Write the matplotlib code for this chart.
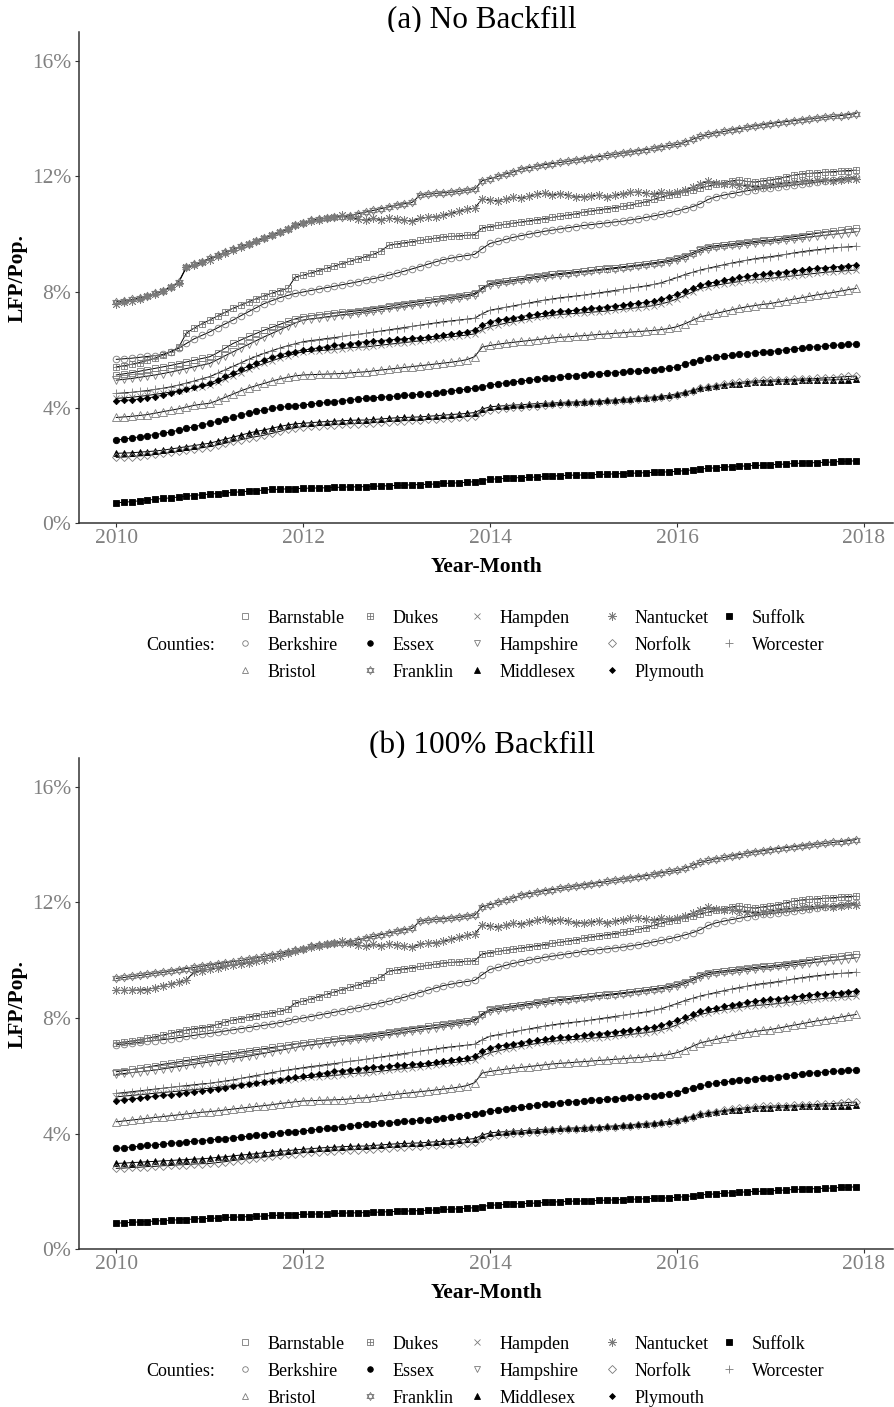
import matplotlib
matplotlib.use("Agg")
import matplotlib.pyplot as plt
from matplotlib.path import Path
import numpy as np

plt.rcParams['font.family'] = ['Liberation Serif', 'DejaVu Serif']

# months Jan 2010 .. Dec 2017
months = np.arange(96)
years = 2010 + months / 12

counties = ["Barnstable", "Berkshire", "Bristol", "Dukes", "Essex", "Franklin", "Hampden",
            "Hampshire", "Middlesex", "Nantucket", "Norfolk", "Plymouth", "Suffolk", "Worcester"]

# ---- panel (a): no backfill, LFP / population in % ----
barnstable = [5.13, 5.17, 5.21, 5.26, 5.31, 5.36, 5.41, 5.46, 5.52, 5.58, 5.64, 5.70,
              5.76, 5.90, 6.06, 6.22, 6.34, 6.46, 6.57, 6.68, 6.78, 6.88, 6.98, 7.07,
              7.14, 7.18, 7.21, 7.24, 7.27, 7.30, 7.32, 7.35, 7.37, 7.42, 7.46, 7.50,
              7.55, 7.59, 7.63, 7.67, 7.71, 7.75, 7.78, 7.82, 7.86, 7.90, 7.95, 8.15,
              8.30, 8.34, 8.38, 8.42, 8.46, 8.50, 8.54, 8.58, 8.61, 8.64, 8.67, 8.70,
              8.72, 8.75, 8.78, 8.81, 8.84, 8.87, 8.90, 8.93, 8.97, 9.01, 9.05, 9.10,
              9.16, 9.25, 9.36, 9.48, 9.56, 9.60, 9.63, 9.66, 9.69, 9.72, 9.75, 9.78,
              9.80, 9.83, 9.87, 9.91, 9.95, 9.99, 10.03, 10.07, 10.10, 10.13, 10.17, 10.20]
berkshire = [5.67, 5.69, 5.71, 5.74, 5.77, 5.80, 5.84, 5.92, 6.05, 6.22, 6.38, 6.50,
             6.62, 6.76, 6.90, 7.03, 7.18, 7.32, 7.46, 7.60, 7.70, 7.80, 7.88, 7.95,
             8.00, 8.05, 8.10, 8.15, 8.20, 8.25, 8.30, 8.35, 8.41, 8.46, 8.52, 8.58,
             8.65, 8.72, 8.80, 8.88, 8.96, 9.04, 9.12, 9.17, 9.22, 9.26, 9.30, 9.50,
             9.68, 9.75, 9.82, 9.89, 9.95, 10.00, 10.05, 10.10, 10.14, 10.18, 10.22, 10.26,
             10.30, 10.33, 10.36, 10.39, 10.42, 10.45, 10.49, 10.53, 10.58, 10.63, 10.68, 10.74,
             10.80, 10.87, 10.95, 11.05, 11.20, 11.29, 11.35, 11.40, 11.45, 11.50, 11.54, 11.58,
             11.61, 11.64, 11.67, 11.70, 11.73, 11.76, 11.80, 11.84, 11.88, 11.92, 11.95, 11.98]
bristol = [3.66, 3.68, 3.70, 3.73, 3.76, 3.81, 3.86, 3.91, 3.96, 4.02, 4.08, 4.12,
           4.15, 4.25, 4.36, 4.47, 4.58, 4.68, 4.76, 4.84, 4.92, 4.99, 5.05, 5.10,
           5.13, 5.14, 5.15, 5.16, 5.17, 5.18, 5.20, 5.22, 5.24, 5.27, 5.30, 5.33,
           5.36, 5.39, 5.42, 5.45, 5.48, 5.51, 5.54, 5.57, 5.61, 5.66, 5.76, 6.10,
           6.15, 6.19, 6.23, 6.26, 6.29, 6.32, 6.35, 6.38, 6.41, 6.43, 6.45, 6.47,
           6.49, 6.51, 6.53, 6.55, 6.57, 6.59, 6.61, 6.63, 6.65, 6.67, 6.70, 6.74,
           6.80, 6.90, 7.02, 7.14, 7.20, 7.26, 7.32, 7.38, 7.44, 7.49, 7.53, 7.57,
           7.60, 7.65, 7.70, 7.75, 7.80, 7.85, 7.90, 7.94, 7.98, 8.03, 8.08, 8.12]
dukes = [5.41, 5.45, 5.50, 5.56, 5.63, 5.72, 5.82, 5.94, 6.08, 6.58, 6.75, 6.90,
         7.03, 7.17, 7.30, 7.44, 7.55, 7.66, 7.77, 7.87, 7.96, 8.05, 8.12, 8.52,
         8.58, 8.66, 8.74, 8.82, 8.90, 8.98, 9.06, 9.14, 9.22, 9.30, 9.42, 9.62,
         9.66, 9.70, 9.74, 9.78, 9.82, 9.86, 9.90, 9.92, 9.94, 9.96, 9.98, 10.22,
         10.26, 10.30, 10.34, 10.38, 10.42, 10.46, 10.50, 10.54, 10.58, 10.62, 10.66, 10.70,
         10.76, 10.80, 10.84, 10.88, 10.92, 10.96, 11.00, 11.06, 11.12, 11.20, 11.28, 11.35,
         11.40, 11.46, 11.52, 11.60, 11.66, 11.72, 11.78, 11.84, 11.87, 11.82, 11.80, 11.84,
         11.87, 11.92, 11.98, 12.04, 12.08, 12.10, 12.12, 12.14, 12.16, 12.18, 12.20, 12.21]
essex = [2.88, 2.91, 2.95, 2.99, 3.03, 3.07, 3.11, 3.16, 3.22, 3.28, 3.34, 3.40,
         3.46, 3.53, 3.60, 3.67, 3.74, 3.81, 3.87, 3.92, 3.97, 4.01, 4.04, 4.07,
         4.09, 4.12, 4.15, 4.18, 4.21, 4.24, 4.27, 4.30, 4.32, 4.34, 4.36, 4.38,
         4.40, 4.42, 4.44, 4.46, 4.48, 4.50, 4.55, 4.58, 4.61, 4.64, 4.67, 4.72,
         4.78, 4.82, 4.86, 4.89, 4.92, 4.95, 4.98, 5.01, 5.04, 5.07, 5.09, 5.11,
         5.13, 5.15, 5.17, 5.19, 5.21, 5.23, 5.25, 5.27, 5.29, 5.31, 5.33, 5.36,
         5.42, 5.50, 5.58, 5.65, 5.70, 5.74, 5.78, 5.81, 5.84, 5.87, 5.90, 5.92,
         5.94, 5.97, 6.00, 6.03, 6.06, 6.09, 6.11, 6.13, 6.15, 6.17, 6.19, 6.20]
franklin = [7.66, 7.69, 7.74, 7.80, 7.87, 7.95, 8.05, 8.18, 8.35, 8.87, 8.95, 9.05,
            9.16, 9.27, 9.38, 9.48, 9.58, 9.66, 9.76, 9.86, 9.96, 10.06, 10.16, 10.30,
            10.40, 10.48, 10.52, 10.55, 10.58, 10.60, 10.64, 10.70, 10.76, 10.82, 10.88, 10.94,
            11.00, 11.05, 11.10, 11.35, 11.38, 11.41, 11.43, 11.45, 11.48, 11.52, 11.55, 11.85,
            11.92, 12.00, 12.08, 12.15, 12.25, 12.30, 12.35, 12.40, 12.44, 12.48, 12.52, 12.56,
            12.60, 12.64, 12.68, 12.72, 12.76, 12.80, 12.84, 12.88, 12.92, 12.97, 13.02, 13.07,
            13.10, 13.18, 13.28, 13.38, 13.45, 13.50, 13.55, 13.60, 13.65, 13.70, 13.74, 13.78,
            13.82, 13.86, 13.89, 13.92, 13.95, 13.98, 14.01, 14.04, 14.07, 14.10, 14.13, 14.17]
hampden = [4.32, 4.34, 4.36, 4.39, 4.42, 4.46, 4.50, 4.54, 4.58, 4.63, 4.68, 4.73,
           4.78, 4.88, 4.99, 5.10, 5.21, 5.32, 5.43, 5.53, 5.62, 5.71, 5.79, 5.87,
           5.93, 5.95, 5.97, 5.99, 6.01, 6.04, 6.07, 6.09, 6.10, 6.13, 6.16, 6.19,
           6.22, 6.25, 6.28, 6.31, 6.34, 6.38, 6.42, 6.45, 6.48, 6.51, 6.55, 6.70,
           6.80, 6.86, 6.92, 6.97, 7.02, 7.07, 7.12, 7.16, 7.19, 7.22, 7.24, 7.26,
           7.28, 7.30, 7.32, 7.34, 7.37, 7.40, 7.43, 7.46, 7.49, 7.53, 7.59, 7.66,
           7.76, 7.88, 8.00, 8.12, 8.18, 8.23, 8.28, 8.32, 8.36, 8.40, 8.43, 8.45,
           8.47, 8.50, 8.53, 8.56, 8.59, 8.62, 8.65, 8.68, 8.70, 8.72, 8.74, 8.76]
hampshire = [4.95, 4.98, 5.01, 5.05, 5.09, 5.13, 5.18, 5.23, 5.29, 5.35, 5.41, 5.47,
             5.53, 5.66, 5.80, 5.93, 6.06, 6.19, 6.32, 6.45, 6.57, 6.69, 6.81, 6.93,
             7.03, 7.07, 7.10, 7.14, 7.17, 7.21, 7.24, 7.28, 7.31, 7.35, 7.39, 7.43,
             7.47, 7.51, 7.55, 7.59, 7.63, 7.67, 7.72, 7.76, 7.80, 7.85, 7.90, 8.10,
             8.25, 8.29, 8.33, 8.37, 8.41, 8.45, 8.49, 8.53, 8.57, 8.60, 8.63, 8.66,
             8.69, 8.72, 8.75, 8.78, 8.81, 8.84, 8.87, 8.90, 8.93, 8.97, 9.01, 9.05,
             9.10, 9.19, 9.30, 9.42, 9.50, 9.55, 9.58, 9.61, 9.64, 9.67, 9.70, 9.73,
             9.75, 9.78, 9.81, 9.84, 9.87, 9.90, 9.93, 9.96, 9.99, 10.02, 10.05, 10.08]
middlesex = [2.42, 2.43, 2.44, 2.46, 2.48, 2.50, 2.53, 2.57, 2.61, 2.65, 2.69, 2.73,
             2.77, 2.84, 2.91, 2.98, 3.05, 3.12, 3.18, 3.23, 3.29, 3.35, 3.40, 3.44,
             3.46, 3.48, 3.50, 3.52, 3.53, 3.55, 3.56, 3.57, 3.57, 3.59, 3.61, 3.63,
             3.65, 3.66, 3.67, 3.68, 3.70, 3.72, 3.74, 3.76, 3.78, 3.80, 3.83, 3.95,
             4.03, 4.05, 4.07, 4.09, 4.10, 4.12, 4.14, 4.15, 4.16, 4.18, 4.19, 4.20,
             4.21, 4.22, 4.24, 4.25, 4.27, 4.29, 4.31, 4.33, 4.35, 4.37, 4.40, 4.43,
             4.48, 4.54, 4.60, 4.67, 4.71, 4.74, 4.77, 4.80, 4.83, 4.85, 4.87, 4.89,
             4.90, 4.91, 4.92, 4.93, 4.94, 4.95, 4.95, 4.96, 4.96, 4.97, 4.97, 4.98]
nantucket = [7.60, 7.64, 7.70, 7.77, 7.85, 7.94, 8.04, 8.16, 8.32, 8.85, 8.92, 9.02,
             9.12, 9.24, 9.36, 9.46, 9.57, 9.66, 9.76, 9.87, 9.97, 10.08, 10.18, 10.30,
             10.38, 10.45, 10.50, 10.55, 10.60, 10.65, 10.60, 10.52, 10.48, 10.55, 10.50, 10.56,
             10.52, 10.48, 10.45, 10.55, 10.58, 10.60, 10.66, 10.72, 10.80, 10.86, 10.90, 11.22,
             11.18, 11.15, 11.22, 11.28, 11.25, 11.32, 11.38, 11.42, 11.36, 11.40, 11.35, 11.30,
             11.28, 11.32, 11.36, 11.30, 11.34, 11.40, 11.44, 11.46, 11.42, 11.38, 11.44, 11.41,
             11.45, 11.52, 11.62, 11.75, 11.82, 11.78, 11.74, 11.72, 11.70, 11.68, 11.64, 11.66,
             11.70, 11.74, 11.78, 11.80, 11.83, 11.85, 11.86, 11.88, 11.84, 11.88, 11.90, 11.92]
norfolk = [2.28, 2.29, 2.31, 2.33, 2.35, 2.38, 2.42, 2.45, 2.49, 2.53, 2.57, 2.61,
           2.65, 2.71, 2.77, 2.83, 2.89, 2.95, 3.00, 3.05, 3.11, 3.18, 3.25, 3.30,
           3.34, 3.36, 3.38, 3.40, 3.41, 3.43, 3.44, 3.45, 3.46, 3.48, 3.50, 3.52,
           3.54, 3.55, 3.56, 3.57, 3.59, 3.61, 3.63, 3.65, 3.67, 3.69, 3.72, 3.84,
           3.92, 3.95, 3.98, 4.01, 4.03, 4.05, 4.07, 4.09, 4.11, 4.13, 4.15, 4.17,
           4.19, 4.20, 4.21, 4.22, 4.24, 4.26, 4.28, 4.30, 4.32, 4.34, 4.36, 4.38,
           4.44, 4.51, 4.59, 4.67, 4.72, 4.76, 4.80, 4.84, 4.87, 4.90, 4.92, 4.94,
           4.95, 4.96, 4.97, 4.98, 4.99, 5.00, 5.01, 5.03, 5.04, 5.06, 5.08, 5.09]
plymouth = [4.23, 4.25, 4.27, 4.30, 4.33, 4.38, 4.43, 4.49, 4.56, 4.63, 4.70, 4.77,
            4.84, 4.96, 5.08, 5.20, 5.32, 5.44, 5.55, 5.65, 5.74, 5.82, 5.89, 5.94,
            5.99, 6.03, 6.07, 6.11, 6.15, 6.18, 6.21, 6.25, 6.28, 6.30, 6.32, 6.34,
            6.36, 6.38, 6.40, 6.42, 6.44, 6.47, 6.51, 6.55, 6.58, 6.62, 6.68, 6.85,
            6.97, 7.02, 7.07, 7.11, 7.15, 7.19, 7.23, 7.27, 7.30, 7.33, 7.35, 7.37,
            7.40, 7.43, 7.46, 7.49, 7.52, 7.55, 7.58, 7.61, 7.64, 7.68, 7.74, 7.83,
            7.92, 8.02, 8.12, 8.24, 8.30, 8.35, 8.40, 8.45, 8.50, 8.54, 8.58, 8.61,
            8.64, 8.67, 8.70, 8.73, 8.76, 8.79, 8.82, 8.84, 8.86, 8.88, 8.91, 8.93]
suffolk = [0.71, 0.73, 0.75, 0.78, 0.80, 0.83, 0.86, 0.88, 0.91, 0.94, 0.96, 0.99,
           1.01, 1.03, 1.05, 1.07, 1.09, 1.11, 1.13, 1.15, 1.17, 1.18, 1.19, 1.20,
           1.21, 1.22, 1.22, 1.23, 1.24, 1.25, 1.26, 1.26, 1.27, 1.28, 1.29, 1.30,
           1.31, 1.32, 1.33, 1.34, 1.35, 1.36, 1.38, 1.39, 1.40, 1.42, 1.44, 1.48,
           1.52, 1.54, 1.55, 1.57, 1.58, 1.59, 1.60, 1.62, 1.63, 1.65, 1.66, 1.67,
           1.67, 1.68, 1.69, 1.70, 1.71, 1.72, 1.73, 1.74, 1.75, 1.76, 1.77, 1.78,
           1.80, 1.82, 1.85, 1.88, 1.90, 1.92, 1.94, 1.96, 1.97, 1.99, 2.00, 2.01,
           2.02, 2.04, 2.05, 2.07, 2.08, 2.09, 2.10, 2.11, 2.12, 2.14, 2.15, 2.16]
worcester = [4.49, 4.51, 4.53, 4.56, 4.59, 4.63, 4.67, 4.72, 4.78, 4.85, 4.92, 5.00,
             5.07, 5.19, 5.31, 5.43, 5.55, 5.67, 5.78, 5.88, 5.97, 6.06, 6.14, 6.21,
             6.28, 6.32, 6.35, 6.39, 6.42, 6.46, 6.50, 6.53, 6.57, 6.61, 6.65, 6.69,
             6.73, 6.77, 6.81, 6.85, 6.89, 6.93, 6.97, 7.00, 7.03, 7.06, 7.09, 7.25,
             7.37, 7.42, 7.47, 7.52, 7.57, 7.62, 7.67, 7.72, 7.76, 7.80, 7.83, 7.86,
             7.89, 7.93, 7.97, 8.01, 8.05, 8.09, 8.13, 8.17, 8.21, 8.26, 8.32, 8.41,
             8.50, 8.60, 8.68, 8.76, 8.82, 8.88, 8.94, 9.00, 9.05, 9.10, 9.15, 9.19,
             9.22, 9.26, 9.30, 9.35, 9.39, 9.43, 9.46, 9.49, 9.52, 9.54, 9.56, 9.58]

# ---- panel (b): 100% backfill changes only 2010-2011; later months are the same ----
barnstable_b = [6.14, 6.18, 6.22, 6.26, 6.30, 6.35, 6.40, 6.44, 6.48, 6.53, 6.57, 6.62,
                6.66, 6.70, 6.74, 6.78, 6.82, 6.86, 6.90, 6.94, 6.98, 7.02, 7.06, 7.10]
berkshire_b = [7.07, 7.10, 7.13, 7.16, 7.19, 7.22, 7.25, 7.28, 7.32, 7.36, 7.40, 7.44,
               7.47, 7.51, 7.55, 7.59, 7.63, 7.67, 7.71, 7.75, 7.79, 7.84, 7.89, 7.95]
bristol_b = [4.41, 4.44, 4.47, 4.50, 4.53, 4.56, 4.59, 4.62, 4.65, 4.68, 4.71, 4.74,
             4.76, 4.79, 4.82, 4.85, 4.88, 4.91, 4.94, 4.97, 5.00, 5.04, 5.07, 5.10]
dukes_b = [7.12, 7.16, 7.20, 7.25, 7.30, 7.35, 7.41, 7.47, 7.53, 7.58, 7.63, 7.67,
           7.70, 7.78, 7.86, 7.93, 7.98, 8.03, 8.08, 8.13, 8.18, 8.23, 8.30, 8.52]
essex_b = [3.49, 3.51, 3.54, 3.56, 3.59, 3.61, 3.64, 3.66, 3.69, 3.71, 3.74, 3.76,
           3.78, 3.81, 3.83, 3.86, 3.88, 3.91, 3.94, 3.96, 3.99, 4.02, 4.04, 4.07]
franklin_b = [9.37, 9.40, 9.44, 9.47, 9.51, 9.55, 9.58, 9.62, 9.66, 9.71, 9.75, 9.79,
              9.83, 9.87, 9.91, 9.95, 9.99, 10.03, 10.08, 10.13, 10.18, 10.23, 10.29, 10.34]
hampden_b = [5.27, 5.30, 5.32, 5.35, 5.37, 5.40, 5.42, 5.45, 5.47, 5.50, 5.52, 5.55,
             5.57, 5.60, 5.63, 5.66, 5.69, 5.72, 5.75, 5.78, 5.81, 5.84, 5.87, 5.90]
hampshire_b = [6.05, 6.08, 6.11, 6.14, 6.17, 6.20, 6.24, 6.28, 6.32, 6.36, 6.40, 6.44,
               6.48, 6.52, 6.56, 6.60, 6.64, 6.68, 6.73, 6.78, 6.83, 6.88, 6.93, 6.98]
middlesex_b = [2.97, 2.98, 3.00, 3.01, 3.03, 3.04, 3.06, 3.07, 3.09, 3.10, 3.12, 3.13,
               3.15, 3.18, 3.20, 3.23, 3.26, 3.28, 3.31, 3.34, 3.36, 3.39, 3.41, 3.44]
nantucket_b = [8.96, 8.95, 8.96, 8.97, 8.98, 9.05, 9.12, 9.18, 9.24, 9.31, 9.60, 9.64,
               9.68, 9.73, 9.78, 9.83, 9.88, 9.91, 9.96, 10.02, 10.08, 10.14, 10.23, 10.30]
norfolk_b = [2.80, 2.81, 2.83, 2.84, 2.86, 2.87, 2.89, 2.90, 2.92, 2.93, 2.95, 2.96,
             2.97, 3.00, 3.03, 3.07, 3.10, 3.13, 3.16, 3.19, 3.22, 3.25, 3.28, 3.31]
plymouth_b = [5.14, 5.17, 5.20, 5.23, 5.26, 5.29, 5.32, 5.35, 5.38, 5.42, 5.45, 5.48,
              5.51, 5.55, 5.59, 5.63, 5.67, 5.71, 5.75, 5.79, 5.83, 5.87, 5.91, 5.95]
suffolk_b = [0.90, 0.92, 0.93, 0.95, 0.96, 0.98, 0.99, 1.01, 1.02, 1.03, 1.05, 1.06,
             1.07, 1.08, 1.10, 1.11, 1.12, 1.13, 1.14, 1.15, 1.17, 1.18, 1.19, 1.20]
worcester_b = [5.39, 5.42, 5.45, 5.48, 5.51, 5.54, 5.57, 5.60, 5.63, 5.66, 5.69, 5.72,
               5.74, 5.78, 5.82, 5.86, 5.91, 5.96, 6.01, 6.06, 6.11, 6.16, 6.20, 6.24]

panel_a = [barnstable, berkshire, bristol, dukes, essex, franklin, hampden,
           hampshire, middlesex, nantucket, norfolk, plymouth, suffolk, worcester]
heads_b = [barnstable_b, berkshire_b, bristol_b, dukes_b, essex_b, franklin_b, hampden_b,
           hampshire_b, middlesex_b, nantucket_b, norfolk_b, plymouth_b, suffolk_b, worcester_b]
panel_b = [h + a[len(h):] for h, a in zip(heads_b, panel_a)]

# special ggplot-like shapes
star_david = Path([(0, 1), (-0.866, -0.5), (0.866, -0.5), (0, 1),
                   (0, -1), (-0.866, 0.5), (0.866, 0.5), (0, -1)],
                  [Path.MOVETO, Path.LINETO, Path.LINETO, Path.CLOSEPOLY] * 2)
square_plus = Path([(-1, -1), (1, -1), (1, 1), (-1, 1), (-1, -1),
                    (-1, 0), (1, 0), (0, -1), (0, 1)],
                   [Path.MOVETO, Path.LINETO, Path.LINETO, Path.LINETO, Path.CLOSEPOLY,
                    Path.MOVETO, Path.LINETO, Path.MOVETO, Path.LINETO])

# marker, size, filled, legend size
styles = {
    "Barnstable": ("s", 4.6, False, 4.0),
    "Berkshire": ("o", 4.8, False, 4.0),
    "Bristol": ("^", 5.4, False, 4.8),
    "Dukes": (square_plus, 4.8, False, 4.2),
    "Essex": ("o", 4.6, True, 4.0),
    "Franklin": (star_david, 6.2, False, 5.8),
    "Hampden": ("x", 4.4, False, 4.4),
    "Hampshire": ("v", 5.4, False, 4.8),
    "Middlesex": ("^", 5.0, True, 4.6),
    "Nantucket": ((8, 2, 0), 6.4, False, 6.0),
    "Norfolk": ("D", 4.2, False, 3.8),
    "Plymouth": ("D", 3.2, True, 3.0),
    "Suffolk": ("s", 4.2, True, 3.8),
    "Worcester": ("+", 6.4, False, 6.0),
}
OPEN = "#7a7a7a"

W, H = 895, 1407
fig = plt.figure(figsize=(W / 100, H / 100), dpi=100)

# pixel overlay for titles, axis titles and legend
lay = fig.add_axes([0, 0, 1, 1])
lay.set_xlim(0, W)
lay.set_ylim(H, 0)
lay.axis("off")

x0, x1 = 79.3, 893.2
ph = 491.6


def draw_panel(bottom_px, series, title):
    ax = fig.add_axes([x0 / W, 1 - bottom_px / H, (x1 - x0) / W, ph / H])
    for vals in series:
        ax.plot(years, vals, color="black", lw=0.7, zorder=2)
    for name, vals in zip(counties, series):
        m, ms, filled, _ = styles[name]
        ax.plot(years, vals, ls="none", marker=m, ms=ms,
                mfc="black" if filled else "none",
                mec="black" if filled else OPEN, mew=0.6, zorder=3)
    ax.set_xlim(2009.604, 2018.313)
    ax.set_ylim(0, 17)
    ax.set_xticks([2010, 2012, 2014, 2016, 2018])
    ax.set_yticks([0, 4, 8, 12, 16])
    ax.set_yticklabels(["0%", "4%", "8%", "12%", "16%"])
    for s in ["top", "right"]:
        ax.spines[s].set_visible(False)
    for s in ["left", "bottom"]:
        ax.spines[s].set_linewidth(1.1)
        ax.spines[s].set_color("#333333")
    ax.tick_params(axis="both", direction="out", length=2.8, width=0.8,
                   color="#333333", labelcolor="#808080", labelsize=15.5)
    ax.tick_params(axis="x", pad=1.5)
    ax.tick_params(axis="y", pad=3)

    top = bottom_px - ph
    lay.text(482, top - 4.5, title, fontsize=22.5, ha="center", va="baseline")
    lay.text(486, bottom_px + 48.5, "Year-Month", fontsize=15.5, fontweight="bold",
             ha="center", va="baseline")
    lay.text(18, top + ph / 2, "LFP/Pop.", fontsize=15.5, fontweight="bold",
             rotation=90, ha="center", va="center")

    # legend, filled column by column like ggplot
    rows = [bottom_px + 92.7, bottom_px + 119.7, bottom_px + 146.7]
    mx = [245, 370, 477, 612, 729]
    lay.text(146.7, rows[1] + 6.7, "Counties:", fontsize=13, ha="left", va="baseline")
    for i, name in enumerate(counties):
        c, r = i // 3, i % 3
        m, ms, filled, lms = styles[name]
        lay.plot([mx[c]], [rows[r]], ls="none", marker=m, ms=lms,
                 mfc="black" if filled else "none",
                 mec="black" if filled else OPEN, mew=0.6)
        lay.text(mx[c] + 23, rows[r] + 6.7, name, fontsize=13, ha="left", va="baseline")


draw_panel(523.3, panel_a, "(a) No Backfill")
draw_panel(1249.3, panel_b, "(b) 100% Backfill")

fig.savefig("out.png", dpi=100)
